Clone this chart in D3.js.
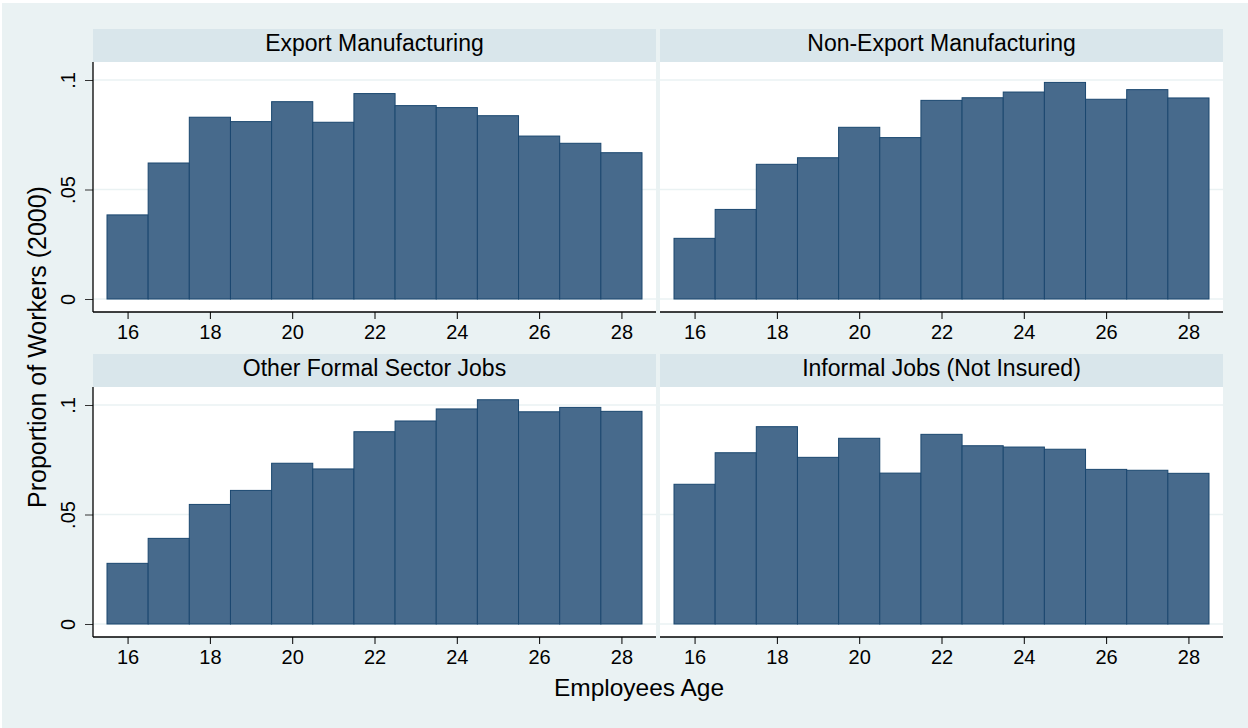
<!DOCTYPE html>
<html>
<head>
<meta charset="utf-8">
<script src="https://cdn.jsdelivr.net/npm/d3@7"></script>
<style>
  html, body { margin: 0; padding: 0; background: #ffffff; }
  svg { display: block; font-family: "Liberation Sans", Arial, sans-serif; }
</style>
</head>
<body>
<svg id="chart" width="1248" height="728"></svg>
<script>
// ---- data ----
const ages = [16, 17, 18, 19, 20, 21, 22, 23, 24, 25, 26, 27, 28];
const exportMfg    = [0.0384, 0.0621, 0.0830, 0.0810, 0.0901, 0.0807, 0.0938, 0.0883, 0.0874, 0.0837, 0.0744, 0.0711, 0.0668];
const nonExportMfg = [0.0277, 0.0409, 0.0615, 0.0645, 0.0784, 0.0737, 0.0907, 0.0919, 0.0945, 0.0989, 0.0912, 0.0956, 0.0918];
const otherFormal  = [0.0277, 0.0391, 0.0546, 0.0610, 0.0734, 0.0708, 0.0878, 0.0927, 0.0982, 0.1024, 0.0969, 0.0989, 0.0971];
const informal     = [0.0638, 0.0782, 0.0901, 0.0761, 0.0848, 0.0689, 0.0866, 0.0814, 0.0808, 0.0798, 0.0706, 0.0702, 0.0688];
const panelTitles = ["Export Manufacturing", "Non-Export Manufacturing", "Other Formal Sector Jobs", "Informal Jobs (Not Insured)"];
const panelSeries = [exportMfg, nonExportMfg, otherFormal, informal];
const xTicks = [16, 18, 20, 22, 24, 26, 28];
const yTicks = [0, 0.05, 0.1];
const yTickLabels = ["0", ".05", ".1"];
const xTitle = "Employees Age";
const yTitle = "Proportion of Workers (2000)";

// ---- layout ----
const W = 1248, H = 728;
const colLeft = [93, 660], colW = 563;
const rowPlotTop = [62, 387], plotH = 250;
const stripH = 33;
const BG = "#EAF2F3", STRIP = "#D9E6EB", FILL = "#476A8C", STROKE = "#1A476F";

const svg = d3.select("#chart");
svg.append("rect").attr("x", 0).attr("y", 0).attr("width", W).attr("height", H).attr("fill", "#ffffff");
svg.append("rect").attr("x", 2).attr("y", 3).attr("width", W - 2).attr("height", H - 3).attr("fill", BG);

panelSeries.forEach((vals, i) => {
  const col = i % 2, row = Math.floor(i / 2);
  const left = colLeft[col], right = left + colW;
  const top = rowPlotTop[row], bottom = top + plotH;

  const x = d3.scaleLinear().domain([15.5, 28.5]).range([left + 14, right - 14]);
  const y = d3.scaleLinear().domain([0, 0.1]).range([bottom - 13, bottom - 232]);
  const bw = x(1) - x(0);

  const g = svg.append("g");
  // strip
  g.append("rect").attr("x", left).attr("y", top - stripH).attr("width", colW).attr("height", stripH).attr("fill", STRIP);
  g.append("text").attr("x", (left + right) / 2).attr("y", top - 11)
    .attr("text-anchor", "middle").attr("font-size", 23).attr("fill", "#000")
    .text(panelTitles[i]);
  // plot area
  g.append("rect").attr("x", left).attr("y", top).attr("width", colW).attr("height", plotH).attr("fill", "#ffffff");
  // grid
  g.selectAll("line.grid").data(yTicks).enter().append("line")
    .attr("x1", left).attr("x2", right)
    .attr("y1", d => y(d)).attr("y2", d => y(d))
    .attr("stroke", BG).attr("stroke-width", 1.6);
  // bars
  g.selectAll("rect.bar").data(ages.map((a, k) => ({ a, v: vals[k] }))).enter().append("rect")
    .attr("x", d => x(d.a - 0.5)).attr("width", bw)
    .attr("y", d => y(d.v)).attr("height", d => y(0) - y(d.v))
    .attr("fill", FILL).attr("stroke", STROKE).attr("stroke-width", 1);

  // x axis
  const xa = g.append("g").attr("transform", `translate(0,${bottom})`)
    .call(d3.axisBottom(x).tickValues(xTicks).tickSize(7).tickSizeOuter(0).tickPadding(6).tickFormat(d3.format("d")));
  xa.select(".domain").remove();
  xa.selectAll(".tick line").attr("stroke", "#000");
  xa.selectAll(".tick text").attr("font-size", 20).attr("font-family", "Liberation Sans, Arial, sans-serif").attr("fill", "#000");
  g.append("line").attr("x1", left).attr("x2", right).attr("y1", bottom).attr("y2", bottom)
    .attr("stroke", "#000").attr("stroke-width", 1.3);

  // y axis (left column only)
  if (col === 0) {
    const ya = g.append("g").attr("transform", `translate(${left},0)`)
      .call(d3.axisLeft(y).tickValues(yTicks).tickSize(8).tickSizeOuter(0)
        .tickFormat((d, k) => yTickLabels[k]));
    ya.select(".domain").remove();
    ya.selectAll(".tick line").attr("stroke", "#333");
    ya.selectAll(".tick text")
      .attr("font-size", 20).attr("font-family", "Liberation Sans, Arial, sans-serif").attr("fill", "#000")
      .attr("x", null).attr("dy", null)
      .attr("text-anchor", "middle")
      .attr("transform", "translate(-18,0) rotate(-90)");
    g.append("line").attr("x1", left).attr("x2", left).attr("y1", top).attr("y2", bottom)
      .attr("stroke", "#000").attr("stroke-width", 1.3);
  }
});

// axis titles
svg.append("text").attr("x", 639).attr("y", 696).attr("text-anchor", "middle")
  .attr("font-size", 24.5).attr("fill", "#000").text(xTitle);
svg.append("text").attr("transform", "translate(46,347) rotate(-90)").attr("text-anchor", "middle")
  .attr("font-size", 25).attr("fill", "#000").text(yTitle);
</script>
</body>
</html>
